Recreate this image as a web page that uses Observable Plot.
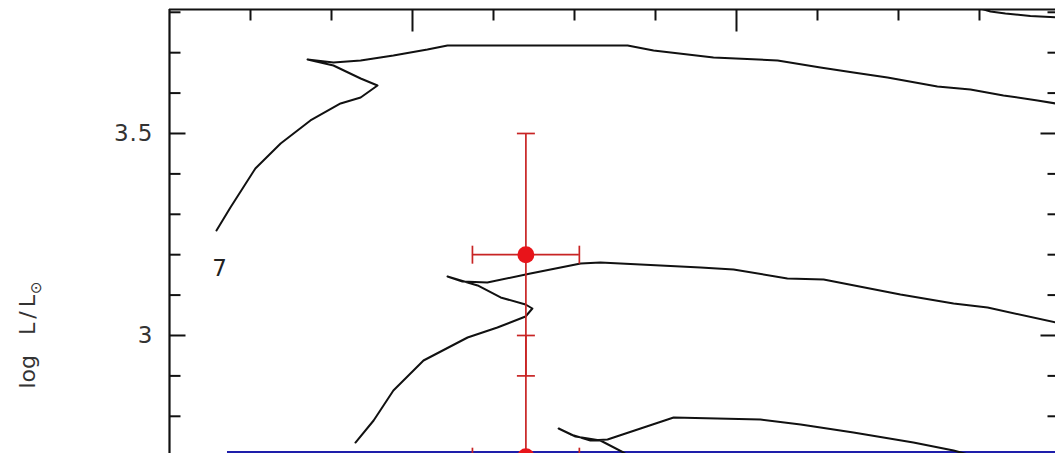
<!DOCTYPE html>
<html><head><meta charset="utf-8">
<script src="https://cdn.jsdelivr.net/npm/d3@7"></script>
<script src="https://cdn.jsdelivr.net/npm/@observablehq/plot@0.6"></script>
<style>html,body{margin:0;padding:0;background:#fff;overflow:hidden}</style>
</head><body><div id="chart"></div>
<script>
// axes (x = log Teff, decreasing to the right; y = log L/Lsun)
const xDomain = [4.375, 4.10154];
const yDomain = [2.7079, 3.8069];
const xMajorTicks = [4.3, 4.2];
const xMinorTicks = [4.35, 4.325, 4.275, 4.25, 4.225, 4.175, 4.15, 4.125];
const yMajorTicks = [3.5, 3.0];
const yMinorTicks = [3.8, 3.7, 3.6, 3.4, 3.3, 3.2, 3.1, 2.9, 2.8];
const yTickLabels = ["3.5", "3"];

// evolutionary tracks: [logTeff, logL]
const track1 = [
  [4.3605,3.2599],[4.3562,3.3168],[4.3485,3.4134],[4.3407,3.4752],[4.3315,3.5322],
  [4.3222,3.5743],[4.3160,3.5891],[4.3108,3.6188],[4.3160,3.6361],[4.3244,3.6683],
  [4.3324,3.6832],[4.3244,3.6757],[4.3160,3.6807],[4.3059,3.6931],[4.2954,3.7079],
  [4.2892,3.7178],[4.2336,3.7178],[4.2256,3.7054],[4.2071,3.6881],[4.1873,3.6807],
  [4.1741,3.6634],[4.1639,3.6510],[4.1534,3.6386],[4.1380,3.6163],[4.1278,3.6089],
  [4.1176,3.5941],[4.1071,3.5817],[4.1015,3.5743]
];
const track2 = [
  [4.3176,2.7351],[4.3120,2.7896],[4.3059,2.8639],[4.2966,2.9381],[4.2830,2.9950],
  [4.2738,3.0198],[4.2651,3.0470],[4.2630,3.0668],[4.2651,3.0767],[4.2728,3.0941],
  [4.2799,3.1238],[4.2892,3.1460],[4.2846,3.1337],[4.2769,3.1312],[4.2636,3.1535],
  [4.2481,3.1782],[4.2420,3.1807],[4.2111,3.1683],[4.2009,3.1634],[4.1843,3.1411],
  [4.1731,3.1386],[4.1494,3.1015],[4.1330,3.0792],[4.1225,3.0693],[4.1015,3.0322]
];
const track3 = [
  [4.2312,2.6906],[4.2349,2.7104],[4.2420,2.7401],[4.2497,2.7500],[4.2549,2.7698],
  [4.2512,2.7550],[4.2451,2.7401],[4.2398,2.7426],[4.2296,2.7698],[4.2194,2.7970],
  [4.1926,2.7921],[4.1802,2.7797],[4.1639,2.7599],[4.1454,2.7351],[4.1330,2.7153],
  [4.1262,2.7005]
];
const track4 = [
  [4.1247,3.8094],[4.1216,3.8020],[4.1170,3.7970],[4.1093,3.7908],[4.1006,3.7871]
];
const tracks = [track1, track2, track3, track4];

// track mass label
const labelT = [4.3594];
const labelL = [3.166];
const labelText = ["7"];

// observed star positions with errors
const starT = [4.265, 4.265];
const starL = [3.2, 2.7];
const starErrT = [0.0165, 0.0165];
const starErrL = [0.3, 0.3];
const stars = starT.map((t, i) => ({t, l: starL[i], et: starErrT[i], el: starErrL[i]}));

// blue underline
const blueY = [2.7109];
const blueX1 = [4.3571];
const blueX2 = [4.10154];

// custom line symbols (length in px = r)
const seg = (ux, uy) => ({draw(ctx, size) { const r = Math.sqrt(size / Math.PI); ctx.moveTo(0, 0); ctx.lineTo(ux * r, uy * r); }});
const hbar = {draw(ctx, size) { const r = Math.sqrt(size / Math.PI); ctx.moveTo(-r, 0); ctx.lineTo(r, 0); }};
const vbar = {draw(ctx, size) { const r = Math.sqrt(size / Math.PI); ctx.moveTo(0, -r); ctx.lineTo(0, r); }};

const ink = "#111";
const red = "#c82424";
const tickStyle = {fill: "none", stroke: ink, strokeWidth: 2};

const plot = Plot.plot({
  width: 1055, height: 453,
  marginLeft: 169, marginRight: 0, marginTop: 9, marginBottom: 0,
  x: {domain: xDomain, axis: null},
  y: {domain: yDomain, axis: null},
  style: {background: "white", fontFamily: "DejaVu Sans"},
  marks: [
    Plot.ruleY(blueY, {y: d => d, x1: (d, i) => blueX1[i], x2: (d, i) => blueX2[i], stroke: "#1e1eaa", strokeWidth: 2.8}),
    ...tracks.map(tr => Plot.line(tr, {x: d => d[0], y: d => d[1], stroke: ink, strokeWidth: 2, clip: true})),
    // frame (left + top)
    Plot.ruleX([xDomain[0]], {stroke: ink, strokeWidth: 2.2}),
    Plot.ruleY([yDomain[1]], {stroke: ink, strokeWidth: 2.2}),
    // inward ticks
    Plot.dot(yMinorTicks, {y: d => d, frameAnchor: "left", symbol: seg(1, 0), r: 11, ...tickStyle}),
    Plot.dot(yMajorTicks, {y: d => d, frameAnchor: "left", symbol: seg(1, 0), r: 16, ...tickStyle}),
    Plot.dot(yMinorTicks, {y: d => d, frameAnchor: "right", symbol: seg(-1, 0), r: 8, ...tickStyle}),
    Plot.dot(yMajorTicks, {y: d => d, frameAnchor: "right", symbol: seg(-1, 0), r: 15, ...tickStyle}),
    Plot.dot(xMinorTicks, {x: d => d, frameAnchor: "top", symbol: seg(0, 1), r: 11, ...tickStyle}),
    Plot.dot(xMajorTicks, {x: d => d, frameAnchor: "top", symbol: seg(0, 1), r: 22, ...tickStyle}),
    Plot.text(yMajorTicks, {y: d => d, text: (d, i) => yTickLabels[i], frameAnchor: "left", textAnchor: "end", dx: -16, fontSize: 23, fill: "#333"}),
    Plot.text(labelText, {x: (d, i) => labelT[i], y: (d, i) => labelL[i], text: d => d, fontSize: 23, fill: "#222"}),
    // error bars
    Plot.ruleX(stars, {x: "t", y1: d => d.l - d.el, y2: d => d.l + d.el, stroke: red, strokeWidth: 1.7}),
    Plot.ruleY(stars, {y: "l", x1: d => d.t - d.et, x2: d => d.t + d.et, stroke: red, strokeWidth: 1.7}),
    Plot.dot(stars, {x: "t", y: d => d.l + d.el, symbol: hbar, r: 9, fill: "none", stroke: red, strokeWidth: 1.7}),
    Plot.dot(stars, {x: "t", y: d => d.l - d.el, symbol: hbar, r: 9, fill: "none", stroke: red, strokeWidth: 1.7}),
    Plot.dot(stars, {x: d => d.t - d.et, y: "l", symbol: vbar, r: 9, fill: "none", stroke: red, strokeWidth: 1.7}),
    Plot.dot(stars, {x: d => d.t + d.et, y: "l", symbol: vbar, r: 9, fill: "none", stroke: red, strokeWidth: 1.7}),
    Plot.dot(stars, {x: "t", y: "l", r: 8.5, fill: "#e8141a", stroke: "none"})
  ]
});

const svg = d3.select(plot);
svg.selectAll("text").attr("letter-spacing", 1);
const lbl = svg.append("text")
  .attr("transform", "translate(35,335) rotate(-90)")
  .attr("text-anchor", "middle")
  .attr("font-family", "DejaVu Sans")
  .attr("font-size", 22)
  .attr("fill", "#333");
lbl.append("tspan").text("log");
lbl.append("tspan").attr("dx", 20).attr("letter-spacing", 4).text("L/L");
lbl.append("tspan").attr("dx", -3).attr("dy", 6).attr("font-size", 15).text("⊙");

document.getElementById("chart").appendChild(plot);
</script>
</body></html>
